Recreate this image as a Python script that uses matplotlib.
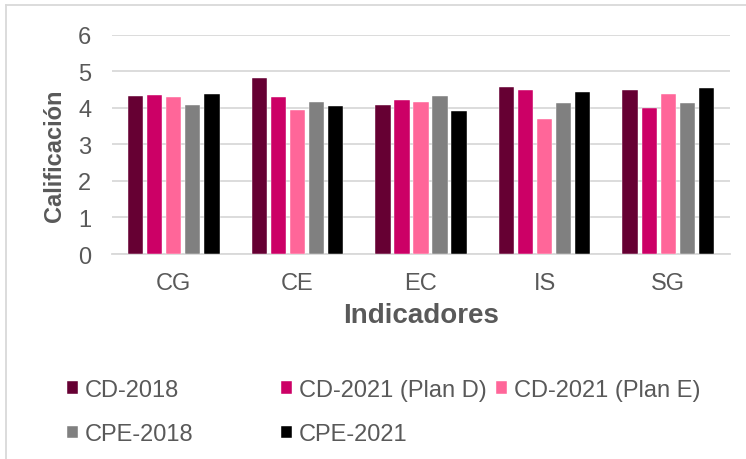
import matplotlib
matplotlib.use("Agg")
import matplotlib.pyplot as plt
from matplotlib.lines import Line2D
import numpy as np

categories = ["CG", "CE", "EC", "IS", "SG"]
series_names = ["CD-2018", "CD-2021 (Plan D)", "CD-2021 (Plan E)", "CPE-2018", "CPE-2021"]
cd_2018 = [4.31, 4.82, 4.09, 4.56, 4.49]
cd_2021_d = [4.34, 4.29, 4.20, 4.48, 3.99]
cd_2021_e = [4.30, 3.95, 4.16, 3.68, 4.38]
cpe_2018 = [4.07, 4.17, 4.32, 4.12, 4.12]
cpe_2021 = [4.37, 4.04, 3.91, 4.42, 4.53]
colors = ["#660033", "#CC0066", "#FF6699", "#808080", "#000000"]
yticks = [0, 1, 2, 3, 4, 5, 6]

series = [cd_2018, cd_2021_d, cd_2021_e, cpe_2018, cpe_2021]

plt.rcParams['font.family'] = ['Liberation Sans', 'DejaVu Sans']
txt = "#595959"
grid = "#D9D9D9"

W, H = 746, 460
fig = plt.figure(figsize=(W / 100, H / 100), dpi=100)
ax = fig.add_axes([112 / W, 1 - 255 / H, 618 / W, (255 - 35.7) / H])

x = np.arange(len(categories))
step = 0.154
bw = 0.124
handles = []
for i, (vals, c) in enumerate(zip(series, colors)):
    b = ax.bar(x + (i - 2) * step, vals, width=bw, color=c, zorder=3,
               edgecolor='white', linewidth=0.3)
    handles.append(b)

ax.set_xlim(-0.5, len(categories) - 0.5)
ax.set_ylim(0, 6)
ax.set_yticks(yticks)
ax.set_xticks(x)
ax.set_xticklabels(categories)
ax.yaxis.grid(True, color=grid, linewidth=1.3, zorder=0)
ax.set_axisbelow(True)
for s in ["top", "right", "left"]:
    ax.spines[s].set_visible(False)
ax.spines["bottom"].set_color(grid)
ax.spines["bottom"].set_linewidth(1.3)
ax.tick_params(axis='both', length=0, labelsize=17, colors=txt)
ax.tick_params(axis='y', pad=15)
ax.tick_params(axis='x', pad=13)

ax.set_xlabel("Indicadores", fontsize=20, fontweight='bold', color=txt, labelpad=6)
fig.text(55 / W, 1 - 156 / H, "Calificación", rotation=90, fontsize=17,
         fontweight='bold', color=txt, ha='center', va='center')

# legend columns
cols = [[0, 3], [1, 4], [2]]
xs = [67, 281, 496]
for col, xp in zip(cols, xs):
    lg = fig.legend([handles[k] for k in col], [series_names[k] for k in col],
                    loc='upper left', bbox_to_anchor=(xp / W, 1 - 380 / H),
                    frameon=False, fontsize=17, labelcolor=txt,
                    handlelength=0.45, handleheight=0.45, handletextpad=0.3,
                    labelspacing=0.95, borderpad=0, borderaxespad=0)

# chart area border (left and top)
fig.add_artist(Line2D([6 / W, 6 / W], [0, 1 - 6 / H], transform=fig.transFigure,
                      color=grid, linewidth=1.3))
fig.add_artist(Line2D([6 / W, 1], [1 - 6 / H, 1 - 6 / H], transform=fig.transFigure,
                      color=grid, linewidth=1.3))

fig.savefig("out.png", dpi=100)
